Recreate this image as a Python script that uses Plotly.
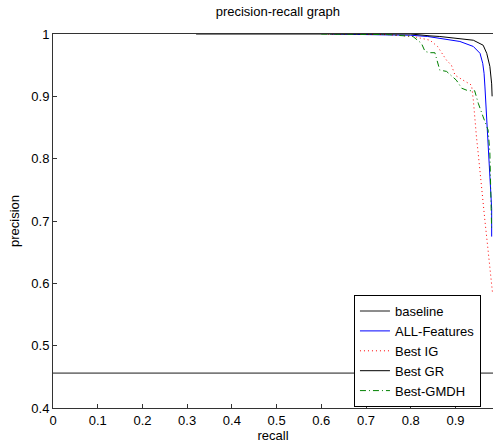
import plotly.graph_objects as go

# ---- data ----
baseline_recall = [0.0, 1.0]
baseline_prec = [0.456, 0.456]

all_recall = [0.62, 0.80, 0.838, 0.865, 0.91, 0.94, 0.955, 0.961, 0.964, 0.966, 0.970, 0.973, 0.977, 0.981, 0.981]
all_prec = [1.0, 0.998, 0.996, 0.993, 0.988, 0.98, 0.969, 0.953, 0.937, 0.915, 0.862, 0.835, 0.78, 0.72, 0.675]

ig_recall = [0.615, 0.75, 0.805, 0.843, 0.86, 0.88, 0.891, 0.899, 0.917, 0.936, 0.94, 0.943, 0.947,
             0.951, 0.955, 0.958, 0.962, 0.966, 0.973, 0.983]
ig_prec = [1.0, 0.999, 0.996, 0.99, 0.98, 0.958, 0.95, 0.934, 0.926, 0.918, 0.894, 0.862, 0.835,
           0.808, 0.782, 0.755, 0.728, 0.70, 0.653, 0.584]

gr_recall = [0.32, 0.80, 0.843, 0.865, 0.94, 0.962, 0.97, 0.977, 0.981, 0.982]
gr_prec = [1.0, 1.0, 0.997, 0.996, 0.99, 0.982, 0.969, 0.948, 0.92, 0.90]

gmdh_recall = [0.60, 0.75, 0.805, 0.824, 0.832, 0.843, 0.854, 0.858, 0.865, 0.88, 0.902, 0.914,
               0.928, 0.943, 0.951, 0.962, 0.973, 0.977, 0.979, 0.981]
gmdh_prec = [1.0, 0.999, 0.996, 0.985, 0.972, 0.97, 0.97, 0.958, 0.942, 0.94, 0.926, 0.913,
             0.909, 0.909, 0.889, 0.867, 0.846, 0.81, 0.74, 0.685]

x_ticks = [0, 0.1, 0.2, 0.3, 0.4, 0.5, 0.6, 0.7, 0.8, 0.9]
y_ticks = [0.4, 0.5, 0.6, 0.7, 0.8, 0.9, 1.0]

FONT = "Liberation Sans, Arial, sans-serif"

fig = go.Figure()
fig.add_trace(go.Scatter(x=baseline_recall, y=baseline_prec, mode="lines", name="baseline",
                         line=dict(color="#1a1a1a", width=1)))
fig.add_trace(go.Scatter(x=all_recall, y=all_prec, mode="lines", name="ALL-Features",
                         line=dict(color="#0000ff", width=1)))
fig.add_trace(go.Scatter(x=ig_recall, y=ig_prec, mode="lines", name="Best IG",
                         line=dict(color="#ff0000", width=1, dash="1px,3px")))
fig.add_trace(go.Scatter(x=gr_recall, y=gr_prec, mode="lines", name="Best GR",
                         line=dict(color="#000000", width=1)))
fig.add_trace(go.Scatter(x=gmdh_recall, y=gmdh_prec, mode="lines", name="Best-GMDH",
                         line=dict(color="#008000", width=1, dash="6px,3px,1px,3px")))

fig.update_layout(
    width=493, height=446,
    margin=dict(l=53, r=0, t=34, b=38),
    paper_bgcolor="white", plot_bgcolor="white",
    font=dict(family=FONT, size=13, color="black"),
    title=dict(text="precision-recall graph", x=0.511, xref="paper", xanchor="center",
               y=1 - 11 / 446, yref="container", yanchor="middle",
               font=dict(family=FONT, size=13, color="black")),
    showlegend=True,
    legend=dict(x=0.684, y=0.302, xanchor="left", yanchor="top",
                bgcolor="white", bordercolor="black", borderwidth=1,
                font=dict(family=FONT, size=13, color="black"),
                tracegroupgap=0),
    xaxis=dict(range=[0, 0.984], tickvals=x_ticks, ticks="inside", ticklen=4,
               tickcolor="#333", showline=True, linecolor="#333", linewidth=1,
               mirror=True, showgrid=False, zeroline=False,
               title=dict(text="recall", standoff=4, font=dict(size=13)),
               tickfont=dict(size=13)),
    yaxis=dict(range=[0.4, 1.0], tickvals=y_ticks, ticks="inside", ticklen=4,
               tickcolor="#333", showline=True, linecolor="#333", linewidth=1,
               showgrid=False, zeroline=False,
               title=dict(text="precision", standoff=8, font=dict(size=13)),
               tickfont=dict(size=13)),
)

fig.write_html("out.html")
